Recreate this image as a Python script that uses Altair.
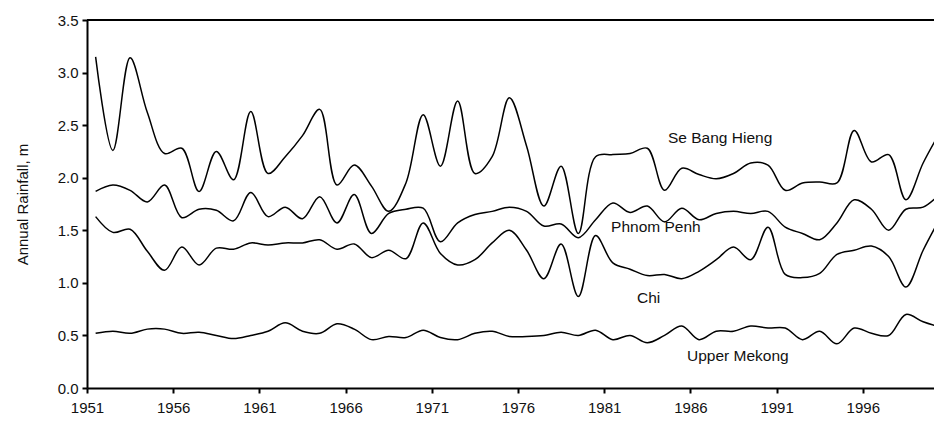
import altair as alt
import pandas as pd

years = list(range(1951, 2001))

se_bang_hieng = [3.15, 2.26, 3.14, 2.62, 2.23, 2.28, 1.87, 2.25, 1.98, 2.63,
                 2.04, 2.20, 2.40, 2.65, 1.93, 2.12, 1.92, 1.68, 1.95, 2.60,
                 2.11, 2.73, 2.04, 2.20, 2.76, 2.30, 1.73, 2.11, 1.47, 2.20,
                 2.22, 2.23, 2.28, 1.88, 2.09, 2.03, 1.99, 2.04, 2.14, 2.12,
                 1.88, 1.95, 1.96, 1.95, 2.45, 2.15, 2.22, 1.79, 2.14, 2.44]

phnom_penh = [1.87, 1.93, 1.88, 1.77, 1.93, 1.62, 1.70, 1.69, 1.59, 1.86,
              1.63, 1.72, 1.61, 1.82, 1.57, 1.84, 1.47, 1.66, 1.70, 1.71,
              1.39, 1.57, 1.65, 1.68, 1.72, 1.68, 1.54, 1.56, 1.43, 1.60,
              1.76, 1.67, 1.73, 1.58, 1.71, 1.60, 1.66, 1.68, 1.66, 1.68,
              1.53, 1.47, 1.41, 1.57, 1.79, 1.70, 1.50, 1.70, 1.72, 1.85]

chi = [1.63, 1.48, 1.51, 1.30, 1.12, 1.34, 1.17, 1.33, 1.32, 1.38,
       1.36, 1.38, 1.38, 1.41, 1.32, 1.37, 1.24, 1.31, 1.23, 1.57,
       1.28, 1.17, 1.22, 1.38, 1.50, 1.31, 1.04, 1.37, 0.87, 1.45,
       1.19, 1.13, 1.07, 1.08, 1.04, 1.11, 1.22, 1.34, 1.22, 1.53,
       1.08, 1.05, 1.09, 1.27, 1.31, 1.35, 1.25, 0.96, 1.31, 1.62]

upper_mekong = [0.52, 0.54, 0.52, 0.56, 0.56, 0.52, 0.53, 0.50, 0.47, 0.50,
                0.54, 0.62, 0.54, 0.52, 0.61, 0.56, 0.46, 0.49, 0.48, 0.55,
                0.48, 0.46, 0.52, 0.54, 0.49, 0.49, 0.50, 0.53, 0.50, 0.55,
                0.46, 0.50, 0.43, 0.50, 0.59, 0.46, 0.54, 0.54, 0.59, 0.57,
                0.57, 0.46, 0.54, 0.42, 0.57, 0.52, 0.50, 0.70, 0.63, 0.58]

series_names = ["Se Bang Hieng", "Phnom Penh", "Chi", "Upper Mekong"]
series_values = [se_bang_hieng, phnom_penh, chi, upper_mekong]

# label anchor points (in data units: year, metres)
label_x = [1984.7, 1981.4, 1982.9, 1985.8]
label_y = [2.375, 1.535, 0.856, 0.30]

x_ticks = list(range(1951, 2000, 5))
y_ticks = [0.0, 0.5, 1.0, 1.5, 2.0, 2.5, 3.0, 3.5]

rows = []
for name, vals in zip(series_names, series_values):
    for yr, v in zip(years, vals):
        rows.append({"series": name, "year": yr, "y": v})
df = pd.DataFrame(rows)

lab_df = pd.DataFrame({"name": series_names, "x": label_x, "y": label_y})
top_df = pd.DataFrame({"y": [3.5]})

FONT = "Liberation Sans"

x_scale = alt.Scale(domain=[1951, 2000.13], nice=False, zero=False)
y_scale = alt.Scale(domain=[0, 3.5], nice=False)

x_axis = alt.Axis(values=x_ticks, format="d", title=None, grid=False,
                  tickSize=5, labelPadding=7, labelFlush=False)
y_axis = alt.Axis(values=y_ticks, format=".1f", title="Annual Rainfall, m",
                  grid=False, tickSize=5, labelPadding=4, titlePadding=27)

lines = alt.Chart(df).transform_calculate(
    x="datum.year + 0.5"
).mark_line(color="black", strokeWidth=1.5, interpolate="catmull-rom", clip=True).encode(
    x=alt.X("x:Q", scale=x_scale, axis=x_axis),
    y=alt.Y("y:Q", scale=y_scale, axis=y_axis),
    detail="series:N",
)

top = alt.Chart(top_df).mark_rule(color="black", strokeWidth=2).encode(
    y=alt.Y("y:Q", scale=y_scale, axis=y_axis)
)

labels = alt.Chart(lab_df).mark_text(
    align="left", baseline="middle", fontSize=15.5, font=FONT, color="#111"
).encode(
    x=alt.X("x:Q", scale=x_scale, axis=x_axis),
    y=alt.Y("y:Q", scale=y_scale, axis=y_axis),
    text="name:N",
)

chart = alt.layer(lines, top, labels).properties(
    width=847,
    height=368,
    autosize=alt.AutoSizeParams(type="none"),
    padding={"left": 79, "top": 12, "right": 0, "bottom": 31},
).configure_view(stroke=None).configure_axis(
    domainColor="black",
    domainWidth=2,
    tickColor="black",
    tickWidth=2,
    labelFont=FONT,
    labelFontSize=15,
    labelColor="#111",
    titleFont=FONT,
    titleFontSize=15,
    titleFontWeight="normal",
    titleColor="#111",
)

chart.save("out.html", embed_options={"renderer": "svg", "actions": False})
